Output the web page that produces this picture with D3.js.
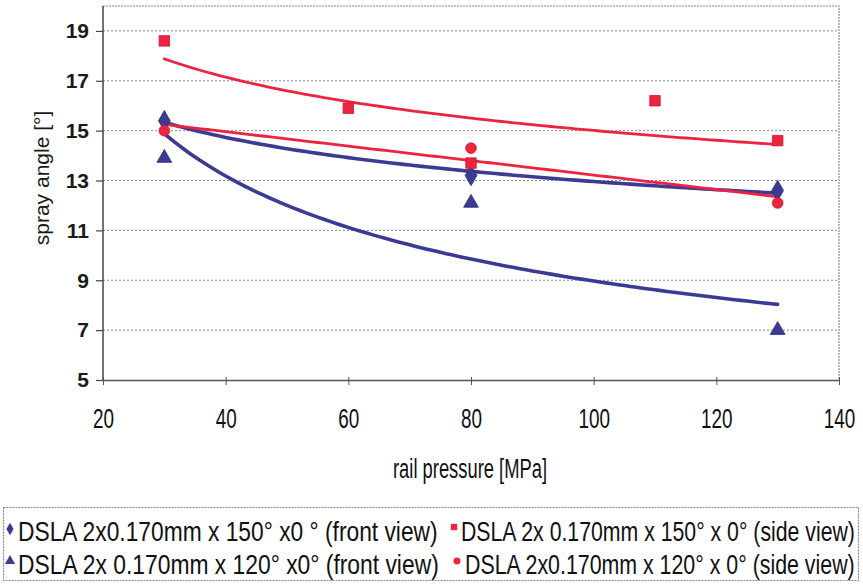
<!DOCTYPE html>
<html>
<head>
<meta charset="utf-8">
<script src="https://cdn.jsdelivr.net/npm/d3@7"></script>
<style>
  html, body { margin: 0; padding: 0; background: #fff; }
  svg { display: block; }
</style>
</head>
<body>
<svg id="chart" width="863" height="586"></svg>
<script>
// ---- data ----
const pressureA = [30, 80, 130];
const angleA    = [15.4, 13.2, 12.6];             // DSLA 150° front view (diamond)
const pressureB = [30, 60, 80, 110, 130];
const angleB    = [18.6, 15.9, 13.7, 16.2, 14.6]; // DSLA 150° side view (square)
const pressureC = [30, 80, 130];
const angleC    = [13.9, 12.1, 7.0];              // DSLA 120° front view (triangle)
const pressureD = [30, 80, 130];
const angleD    = [15.0, 14.3, 12.1];             // DSLA 120° side view (circle)

const seriesNames = [
  "DSLA 2x0.170mm x 150° x0 ° (front view)",
  "DSLA 2x 0.170mm x 150° x 0° (side view)",
  "DSLA 2x 0.170mm x 120° x0° (front view)",
  "DSLA 2x0.170mm x 120° x 0° (side view)"
];
const trendTypes = ["power", "power", "power", "linear"];
const xTicks = [20, 40, 60, 80, 100, 120, 140];
const yTicks = [5, 7, 9, 11, 13, 15, 17, 19];

// ---- styling ----
const FONT = "'Liberation Sans', Arial, sans-serif";
const BLUE = "#3b3b94";
const RED = "#ec2440";
const colors = [BLUE, RED, BLUE, RED];
const shapes = [d3.symbolDiamond, d3.symbolSquare, d3.symbolTriangle, d3.symbolCircle];

const svg = d3.select("#chart");
const L = 103, R = 839, T = 6, B = 380;
const x = d3.scaleLinear().domain([20, 140]).range([L, R]);
const y = d3.scaleLinear().domain([5, 20]).range([B, T]);

// condensed text helper: squeeze horizontally to look like a narrow face
function narrowText(parent, str, px, py, size, sx, anchor) {
  const g = parent.append("g").attr("transform", `translate(${px},${py}) scale(${sx},1)`);
  return g.append("text").attr("x", 0).attr("y", 0)
    .attr("text-anchor", anchor || "start")
    .attr("font-family", FONT).attr("font-size", size).attr("fill", "#111")
    .text(str);
}

// gridlines
svg.append("g").selectAll("line").data(yTicks.filter(v => v > 5)).join("line")
  .attr("x1", L).attr("x2", R).attr("y1", d => y(d)).attr("y2", d => y(d))
  .attr("stroke", "#8a8a8a").attr("stroke-width", 1).attr("stroke-dasharray", "2,2");
// top and right border
svg.append("path").attr("d", `M${L},${T}H${R}V${B}`)
  .attr("fill", "none").attr("stroke", "#8a8a8a").attr("stroke-width", 1.2).attr("stroke-dasharray", "2,1");

// y axis
const yAxis = svg.append("g").attr("transform", `translate(${L},0)`)
  .call(d3.axisLeft(y).tickValues(yTicks).tickSize(7).tickPadding(7).tickSizeOuter(0));
yAxis.select(".domain").remove();
yAxis.append("line").attr("x1", 0).attr("x2", 0).attr("y1", T).attr("y2", B).attr("stroke", "#444").attr("stroke-width", 1.5);
yAxis.selectAll(".tick line").attr("stroke", "#444").attr("stroke-width", 1.2);
yAxis.selectAll(".tick text")
  .attr("font-family", FONT).attr("font-size", 21).attr("fill", "#1a1a1a").style("font-weight", 600);

// x axis (labels drawn condensed)
const xAxis = svg.append("g").attr("transform", `translate(0,${B})`)
  .call(d3.axisBottom(x).tickValues(xTicks).tickSize(5).tickSizeOuter(0));
xAxis.select(".domain").attr("stroke", "#555").attr("stroke-width", 1.5);
xAxis.selectAll(".tick line").attr("stroke", "#555").attr("y1", -3);
xAxis.selectAll(".tick text").remove();
xAxis.selectAll(".tick").each(function(d) {
  narrowText(d3.select(this), String(d), 0, 48, 27, 0.7, "middle");
});

// axis titles
narrowText(svg, "rail pressure [MPa]", 470, 478, 27, 0.68, "middle");
svg.append("text")
  .attr("transform", `translate(49,178) rotate(-90)`)
  .attr("text-anchor", "middle")
  .attr("font-family", FONT)
  .attr("font-size", 21).attr("fill", "#1a1a1a").text("spray angle [°]");

// series
const series = [
  { xs: pressureA, ys: angleA },
  { xs: pressureB, ys: angleB },
  { xs: pressureC, ys: angleC },
  { xs: pressureD, ys: angleD }
].map((s, i) => ({ ...s, pts: s.xs.map((v, j) => [v, s.ys[j]]), color: colors[i], shape: shapes[i], trend: trendTypes[i] }));

function fitTrend(pts, type) {
  const t = type === "power" ? (v => Math.log(v)) : (v => v);
  const X = pts.map(p => t(p[0])), Y = pts.map(p => t(p[1]));
  const mx = d3.mean(X), my = d3.mean(Y);
  const b = d3.sum(X.map((v, i) => (v - mx) * (Y[i] - my))) / d3.sum(X.map(v => (v - mx) ** 2));
  const a = my - b * mx;
  return type === "power" ? (v => Math.exp(a) * Math.pow(v, b)) : (v => a + b * v);
}

const line = d3.line().x(d => x(d[0])).y(d => y(d[1]));
series.forEach(s => {
  const f = fitTrend(s.pts, s.trend);
  const [x0, x1] = d3.extent(s.xs);
  const samples = d3.range(0, 101).map(k => { const v = x0 + (x1 - x0) * k / 100; return [v, f(v)]; });
  svg.append("path").datum(samples).attr("d", line)
    .attr("fill", "none").attr("stroke", s.color)
    .attr("stroke-width", s.color === BLUE ? 3.6 : 2.8).attr("stroke-linecap", "round");
});

const symSizes = [120, 110, 95, 90];
series.forEach((s, i) => {
  svg.append("g").selectAll("path").data(s.pts).join("path")
    .attr("transform", d => `translate(${x(d[0])},${y(d[1])})`)
    .attr("d", d3.symbol(s.shape, symSizes[i]))
    .attr("fill", s.color).attr("stroke", s.color === RED ? "#d01830" : "#2c2c80").attr("stroke-width", 0.8);
});

// legend
svg.append("rect").attr("x", 3.5).attr("y", 507.5).attr("width", 855).attr("height", 73)
  .attr("fill", "#fff").attr("stroke", "#888").attr("stroke-width", 1.2).attr("stroke-dasharray", "2,1");
const legendPos = [
  { mx: 10, my: 529, tx: 18, ty: 541, w: 420 },
  { mx: 454, my: 527, tx: 461, ty: 541, w: 394 },
  { mx: 10, my: 561, tx: 18, ty: 574, w: 421 },
  { mx: 457, my: 561, tx: 465, ty: 574, w: 390 }
];
const legSizes = [45, 40, 45, 38];
const lg = svg.append("g");
seriesNames.forEach((name, i) => {
  const p = legendPos[i];
  lg.append("path").attr("transform", `translate(${p.mx},${p.my})`)
    .attr("d", d3.symbol(shapes[i], legSizes[i])).attr("fill", colors[i]);
  const t = narrowText(lg, name, p.tx, p.ty, 27, 1, "start");
  const natural = t.node().getComputedTextLength();
  d3.select(t.node().parentNode).attr("transform", `translate(${p.tx},${p.ty}) scale(${p.w / natural},1)`);
});
</script>
</body>
</html>
